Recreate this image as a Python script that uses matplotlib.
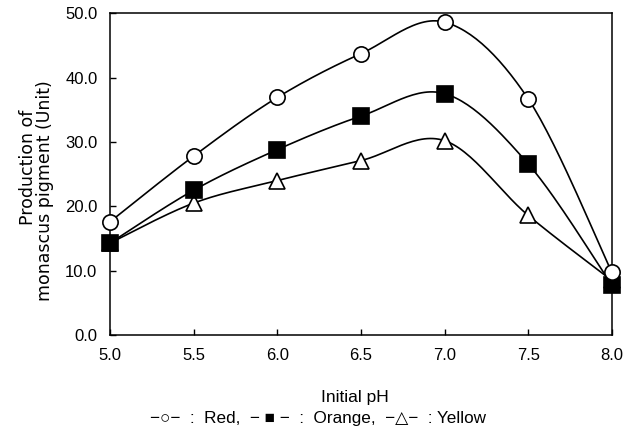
import numpy as np
import matplotlib
matplotlib.use("Agg")
import matplotlib.pyplot as plt

plt.rcParams['font.family'] = ['Liberation Sans', 'DejaVu Sans']

# data
ph = [5.0, 5.5, 6.0, 6.5, 7.0, 7.5, 8.0]
red = [17.6, 27.8, 36.9, 43.7, 48.6, 36.7, 9.8]
orange = [14.3, 22.5, 28.8, 34.0, 37.5, 26.6, 7.8]
yellow = [14.3, 20.5, 24.0, 27.1, 30.2, 18.6, 8.5]

XMIN, XMAX, YMIN, YMAX = 5.0, 8.0, 0.0, 50.0


def smooth(xs, ys, n=30):
    # Catmull-Rom style smoothing like a spreadsheet "smoothed line"
    xs = np.asarray(xs, float)
    ys = np.asarray(ys, float)
    # work in screen-like units so the curve shape looks right
    sx, sy = 502 / (XMAX - XMIN), 322 / (YMAX - YMIN)
    P = np.column_stack([xs * sx, ys * sy])
    P = np.vstack([P[0], P, P[-1]])
    out = []
    for i in range(1, len(P) - 2):
        p0, p1, p2, p3 = P[i - 1], P[i], P[i + 1], P[i + 2]
        c1 = p1 + (p2 - p0) / 6
        c2 = p2 - (p3 - p1) / 6
        t = np.linspace(0, 1, n)[:, None]
        seg = ((1 - t) ** 3) * p1 + 3 * ((1 - t) ** 2) * t * c1 + 3 * (1 - t) * t ** 2 * c2 + t ** 3 * p2
        out.append(seg)
    out = np.vstack(out)
    return out[:, 0] / sx, out[:, 1] / sy


fig = plt.figure(figsize=(6.32, 4.37), dpi=100)
ax = fig.add_axes([0.174, 0.233, 0.794, 0.737])

for ys, mk, fc in [(yellow, '^', 'white'), (orange, 's', 'black'), (red, 'o', 'white')]:
    sxv, syv = smooth(ph, ys)
    ax.plot(sxv, syv, color='black', lw=1.2, clip_on=False, zorder=2)
    ax.plot(ph, ys, ls='none', marker=mk, ms=11 if mk != '^' else 11.5,
            mfc=fc, mec='black', mew=1.2, clip_on=False, zorder=3)

ax.set_xlim(XMIN, XMAX)
ax.set_ylim(YMIN, YMAX)
ax.set_xticks(ph)
ax.set_xticklabels([f"{v:.1f}" for v in ph])
ax.set_yticks(np.arange(0, 51, 10))
ax.set_yticklabels([f"{v:.1f}" for v in np.arange(0, 51, 10)])
ax.tick_params(direction='in', length=4, width=1, labelsize=12, pad=9)
for s in ax.spines.values():
    s.set_linewidth(1.1)

# axis titles placed by hand to follow the reference layout
fig.text(0.562, 0.080, "Initial pH", fontsize=12.5, ha='center', va='baseline')
fig.text(0.052, 0.618, "Production of", fontsize=12.5, family='DejaVu Sans',
         rotation=90, rotation_mode='anchor', ha='center', va='baseline')
fig.text(0.079, 0.563, "monascus pigment (Unit)", fontsize=12.5, family='DejaVu Sans',
         rotation=90, rotation_mode='anchor', ha='center', va='baseline')

fig.text(0.503, 0.032,
         "\u2212\u25cb\u2212  :  Red,  \u2212 \u25a0 \u2212  :  Orange,  \u2212\u25b3\u2212  : Yellow",
         ha='center', va='baseline', fontsize=12.3)

fig.savefig("out.png", dpi=100)
